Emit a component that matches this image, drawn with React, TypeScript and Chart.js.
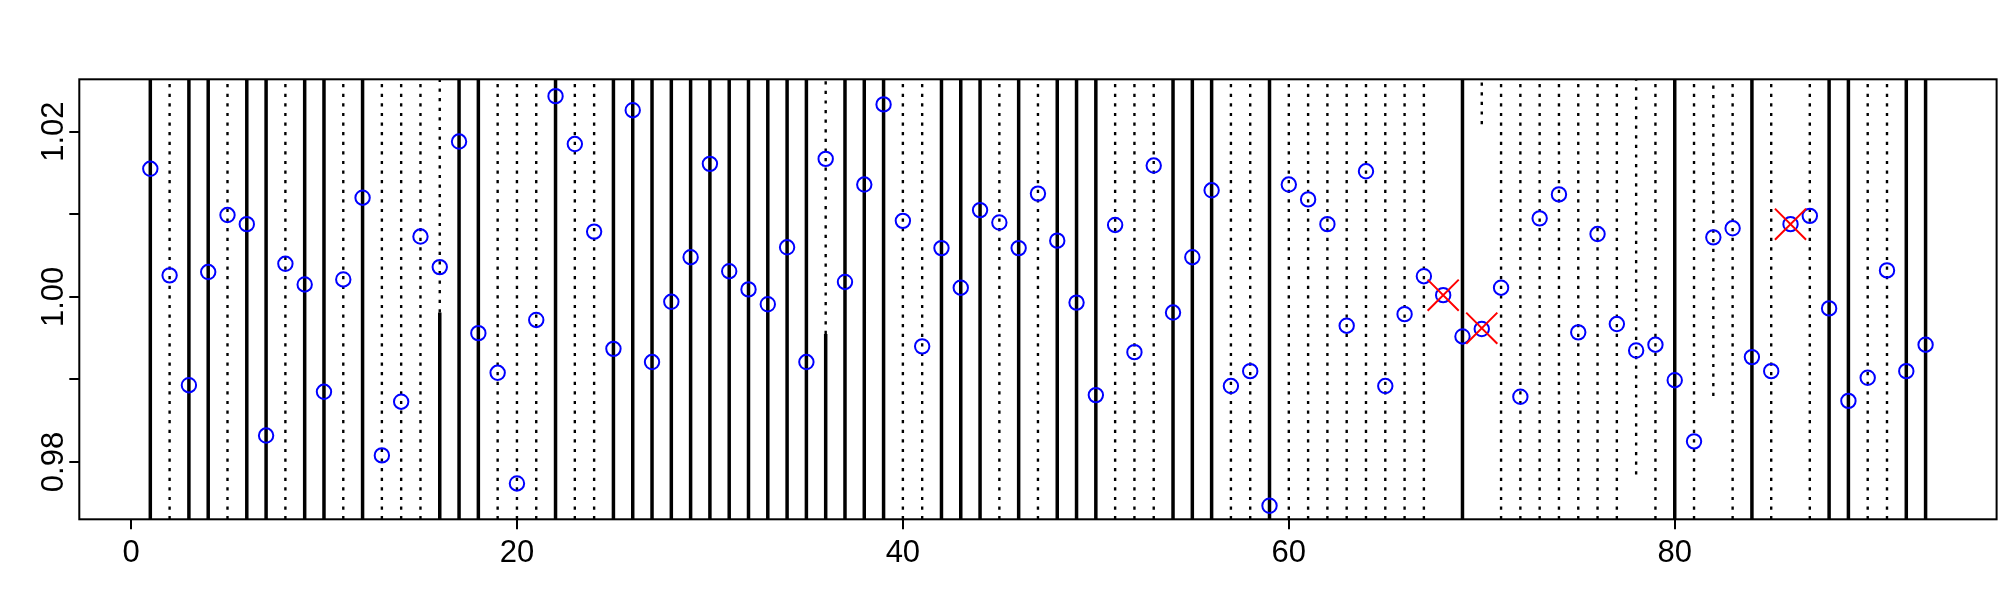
import React, { useEffect, useRef } from "react";
import { Chart, registerables } from "chart.js";

Chart.register(...registerables);

// ---- data ----
const yValues = [
  1.0155, 1.0026, 0.9893, 1.003, 1.0099, 1.0088, 0.9832, 1.004, 1.0015, 0.9885,
  1.0021, 1.012, 0.9808, 0.9873, 1.0073, 1.0036, 1.0188, 0.9956, 0.9908, 0.9774,
  0.9972, 1.0243, 1.0185, 1.0079, 0.9937, 1.0226, 0.9921, 0.9994, 1.0048, 1.0161,
  1.0031, 1.0009, 0.9991, 1.006, 0.9921, 1.0167, 1.0018, 1.0136, 1.0233, 1.0092,
  0.994, 1.0059, 1.0011, 1.0105, 1.009, 1.0059, 1.0125, 1.0068, 0.9993, 0.9881,
  1.0087, 0.9933, 1.0159, 0.9981, 1.0048, 1.0129, 0.9892, 0.991, 0.9747, 1.0136,
  1.0118, 1.0088, 0.9965, 1.0152, 0.9892, 0.9979, 1.0025, 1.0002, 0.9952, 0.9961,
  1.0011, 0.9879, 1.0095, 1.0124, 0.9957, 1.0076, 0.9967, 0.9935, 0.9942, 0.9899,
  0.9825, 1.0072, 1.0083, 0.9927, 0.991, 1.0088, 1.0098, 0.9986, 0.9874, 0.9902,
  1.0032, 0.991, 0.9942,
];
const xIndex = yValues.map((_, i) => i + 1);

// full-height solid vertical lines
const solidLineX = [
  1, 3, 4, 6, 7, 9, 10, 12, 17, 18, 22, 25, 26, 27, 28, 29, 30, 31, 32, 33, 34,
  35, 37, 38, 39, 42, 43, 44, 46, 48, 49, 50, 54, 55, 56, 59, 69, 80, 84, 88,
  89, 92, 93,
];
// full-height dotted vertical lines
const dottedLineX = [
  2, 5, 8, 11, 13, 14, 15, 19, 20, 21, 23, 24, 40, 41, 45, 47, 51, 52, 53, 57,
  58, 60, 61, 62, 63, 64, 65, 66, 67, 71, 72, 73, 74, 75, 76, 77, 79, 81, 83,
  85, 87, 90, 91,
];
// solid from bottom up to a level, dotted from that level to the top
const splitLineX = [16, 36];
const splitLineLevel = [0.9981, 0.9955];
// dotted only from a level up to the top
const topDottedX = [70, 78, 82];
const topDottedFrom = [1.0209, 0.9785, 0.988];

// flagged points (red crosses)
const flagX = [68, 70, 86];
const flagY = [1.0002, 0.9962, 1.0088];

// axes
const xTicks = [0, 20, 40, 60, 80];
const yTicks = [0.98, 0.99, 1.0, 1.01, 1.02];
const yLabelled = [0.98, 1.0, 1.02];
const X_MIN = -2.68;
const X_MAX = 96.68;
const Y_MIN = 0.97306;
const Y_MAX = 1.02634;

const FONT_FAMILY = "'Liberation Sans', Arial, Helvetica, sans-serif";

function segs(list: { x: number; y0: number; y1: number }[]) {
  const out: { x: number; y: number | null }[] = [];
  list.forEach((s) => {
    out.push({ x: s.x, y: s.y0 });
    out.push({ x: s.x, y: s.y1 });
    out.push({ x: s.x, y: null });
  });
  return out;
}

const frameAndLabels = {
  id: "frameAndLabels",
  afterDraw(chart: any) {
    const { ctx, chartArea } = chart;
    const ys = chart.scales.y;
    ctx.save();
    ctx.strokeStyle = "#000";
    ctx.lineWidth = 2;
    ctx.strokeRect(
      chartArea.left,
      chartArea.top,
      chartArea.right - chartArea.left,
      chartArea.bottom - chartArea.top
    );
    ctx.fillStyle = "#000";
    ctx.font = `31px ${FONT_FAMILY}`;
    ctx.textAlign = "center";
    ctx.textBaseline = "alphabetic";
    yLabelled.forEach((v) => {
      const py = ys.getPixelForValue(v);
      ctx.save();
      ctx.translate(63, py);
      ctx.rotate(-Math.PI / 2);
      ctx.fillText(v.toFixed(2), 0, 0);
      ctx.restore();
    });
    ctx.restore();
  },
};

export default function App() {
  const ref = useRef<HTMLCanvasElement | null>(null);

  useEffect(() => {
    if (!ref.current) return;

    const solidSegs = segs([
      ...solidLineX.map((x) => ({ x, y0: Y_MIN, y1: Y_MAX })),
      ...splitLineX.map((x, i) => ({ x, y0: Y_MIN, y1: splitLineLevel[i] })),
    ]);
    const dottedSegs = segs([
      ...dottedLineX.map((x) => ({ x, y0: Y_MIN, y1: Y_MAX })),
      ...splitLineX.map((x, i) => ({ x, y0: splitLineLevel[i], y1: Y_MAX })),
      ...topDottedX.map((x, i) => ({ x, y0: topDottedFrom[i], y1: Y_MAX })),
    ]);

    const chart = new Chart(ref.current, {
      type: "scatter",
      data: {
        datasets: [
          {
            label: "flag",
            data: flagX.map((x, i) => ({ x, y: flagY[i] })),
            pointStyle: "crossRot",
            pointRadius: 22,
            borderColor: "#ff0000",
            backgroundColor: "#ff0000",
            borderWidth: 2,
            order: 0,
          },
          {
            label: "values",
            data: xIndex.map((x, i) => ({ x, y: yValues[i] })),
            pointStyle: "circle",
            pointRadius: 7.2,
            borderColor: "#0000ff",
            backgroundColor: "rgba(0,0,0,0)",
            borderWidth: 2,
            order: 1,
          },
          {
            label: "solid",
            data: solidSegs,
            showLine: true,
            spanGaps: false,
            pointRadius: 0,
            borderColor: "#000",
            borderWidth: 3.5,
            order: 2,
          },
          {
            label: "dotted",
            data: dottedSegs,
            showLine: true,
            spanGaps: false,
            pointRadius: 0,
            borderColor: "#000",
            borderWidth: 2.4,
            borderDash: [3.2, 6.4],
            order: 3,
          },
        ] as any,
      },
      options: {
        responsive: false,
        animation: false,
        devicePixelRatio: 1,
        events: [],
        layout: {
          autoPadding: false,
          padding: { top: 79.3, right: 3.4, left: 0, bottom: 0 },
        },
        plugins: { legend: { display: false }, tooltip: { enabled: false } },
        scales: {
          x: {
            type: "linear",
            min: X_MIN,
            max: X_MAX,
            border: { display: false },
            grid: {
              drawOnChartArea: false,
              drawTicks: true,
              tickLength: 10,
              color: "#000",
              tickColor: "#000",
              lineWidth: 2,
              tickWidth: 2,
            },
            ticks: {
              color: "#000",
              font: { size: 31, family: FONT_FAMILY },
              padding: 6,
              maxRotation: 0,
              minRotation: 0,
              autoSkip: false,
              callback: (v: any) => String(v),
            },
            afterBuildTicks: (axis: any) => {
              axis.ticks = xTicks.map((value) => ({ value }));
            },
            afterFit: (axis: any) => {
              axis.height = 80.7;
              axis.paddingLeft = 0;
              axis.paddingRight = 0;
            },
          },
          y: {
            type: "linear",
            min: Y_MIN,
            max: Y_MAX,
            border: { display: false },
            grid: {
              drawOnChartArea: false,
              drawTicks: true,
              tickLength: 10,
              color: "#000",
              tickColor: "#000",
              lineWidth: 2,
              tickWidth: 2,
            },
            ticks: {
              color: "#000",
              font: { size: 31, family: FONT_FAMILY },
              callback: () => "",
            },
            afterBuildTicks: (axis: any) => {
              axis.ticks = yTicks.map((value) => ({ value }));
            },
            afterFit: (axis: any) => {
              axis.width = 79.3;
              axis.paddingTop = 0;
              axis.paddingBottom = 0;
            },
          },
        },
      },
      plugins: [frameAndLabels],
    });

    return () => chart.destroy();
  }, []);

  return (
    <div
      style={{
        position: "fixed",
        left: 0,
        top: 0,
        width: 2000,
        height: 600,
        background: "#fff",
      }}
    >
      <canvas ref={ref} width={2000} height={600} />
    </div>
  );
}
